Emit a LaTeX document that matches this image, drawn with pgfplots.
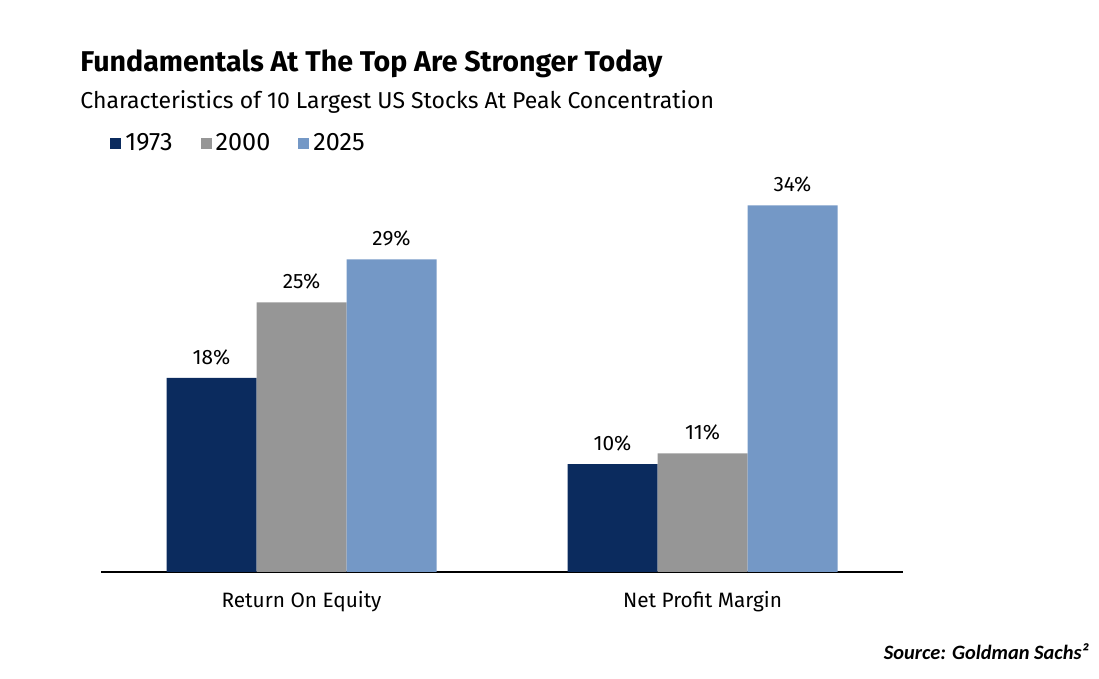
\documentclass[border=0pt]{standalone}
\usepackage{pgfplots}
\pgfplotsset{compat=1.18}
\usepackage{fontspec}
\setmainfont{Fira Sans}
\newfontfamily\srcfont{Carlito}

\definecolor{navy}{RGB}{11,43,94}
\definecolor{midgray}{RGB}{150,150,150}
\definecolor{lightblue}{RGB}{116,152,198}

\begin{document}
\begin{tikzpicture}
% page is 1099 x 679 px, 1 px = 0.5pt
\path[use as bounding box] (0,0) rectangle (549.5pt,339.5pt);

\node[anchor=base west, inner sep=0pt, font=\bfseries\fontsize{14.3}{16}\selectfont]
  at (40pt,303.5pt) {Fundamentals At The Top Are Stronger Today};
\node[anchor=base west, inner sep=0pt, font=\fontsize{11.5}{13}\selectfont]
  at (40pt,285pt) {Characteristics of 10 Largest US Stocks At Peak Concentration};
\node[anchor=base east, inner sep=0pt, font=\srcfont\bfseries\itshape\fontsize{10.2}{12}\selectfont]
  at (544.5pt,9.5pt) {Source: Goldman Sachs²};

\begin{axis}[
    at={(50.5pt,53.5pt)}, anchor=south west,
    scale only axis,
    width=401pt, height=215.6pt,
    xmin=-0.5, xmax=1.5,
    ymin=0, ymax=40,
    axis x line=bottom,
    axis y line=none,
    x axis line style={-, black, line width=1pt},
    xtick={0,1},
    xticklabels={Return On Equity, Net Profit Margin},
    major tick length=0pt,
    xticklabel style={font=\fontsize{10.4}{12}\selectfont, yshift=-6pt},
    ytick=\empty,
    ybar=0pt, bar width=45pt,
    /pgf/number format/assume math mode=true,
    nodes near coords={\pgfmathprintnumber{\pgfplotspointmeta}\%},
    every node near coord/.append style={font=\fontsize{10.4}{12}\selectfont, black, yshift=3pt},
    legend style={at={(rel axis cs:0,1)}, anchor=west, xshift=4.5pt, yshift=-1.5pt,
        draw=none, fill=none, inner sep=0pt, legend columns=3,
        font=\fontsize{12.6}{14}\selectfont,
        /tikz/every even column/.append style={column sep=12pt}},
    legend image code/.code={\fill[#1] (0pt,-2.75pt) rectangle (5.5pt,2.75pt);},
]
\addplot[fill=navy, draw=none] coordinates {(0,18) (1,10)};
\addplot[fill=midgray, draw=none] coordinates {(0,25) (1,11)};
\addplot[fill=lightblue, draw=none] coordinates {(0,29) (1,34)};
\legend{1973,2000,2025}
\end{axis}
\end{tikzpicture}
\end{document}
